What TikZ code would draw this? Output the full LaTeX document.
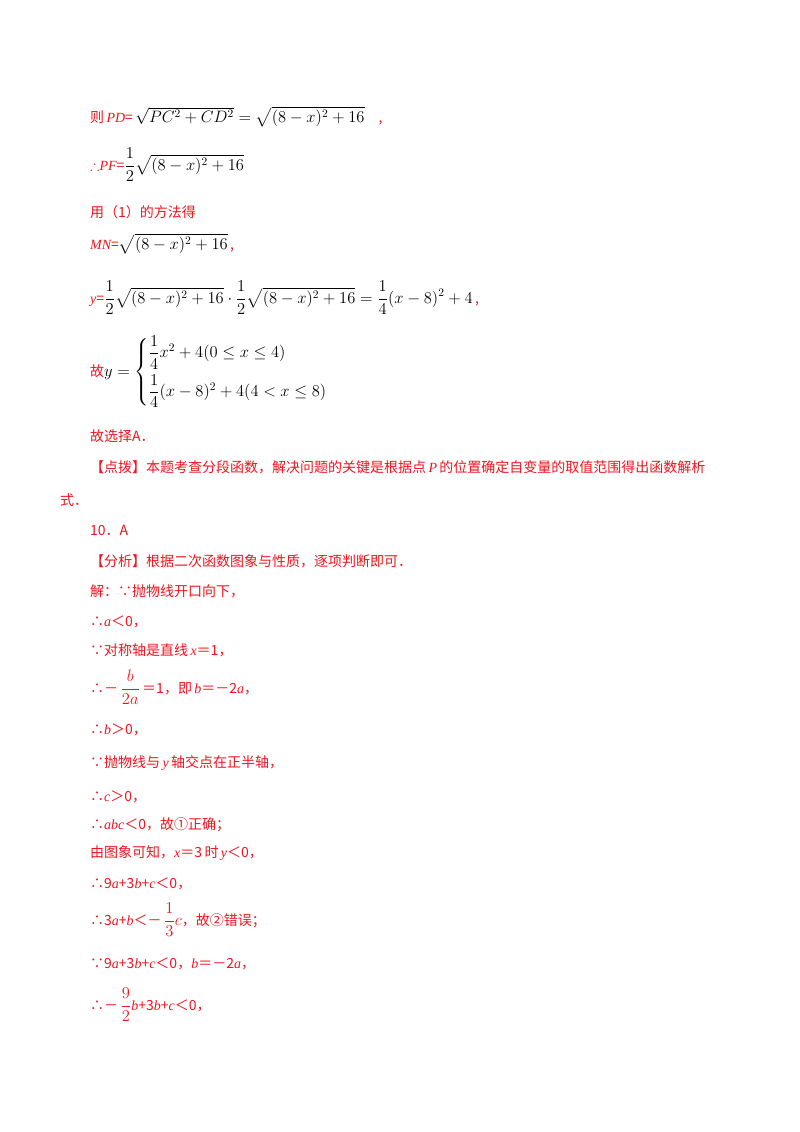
\documentclass[tikz,border=0pt]{standalone}
\usepackage{amsmath,amssymb,graphicx}
\usepackage{fontspec}
\setmainfont{Liberation Serif}
\newfontfamily\cjk{Noto Sans CJK SC}
\definecolor{rd}{RGB}{240,20,30}
\newcommand{\mth}[1]{{\color{black}\rmfamily\scalebox{1.15}{#1}}}
\begin{document}
\begin{tikzpicture}[x=1pt,y=-1pt,
  t/.style={anchor=base west,inner sep=0pt,text=rd,font=\cjk\fontsize{14}{16}\selectfont}]
\useasboundingbox (0,0) rectangle (800,1132);
\node[t] (l1) at (90,122) {则\,{\rmfamily\itshape PD}=\,\mth{$\sqrt{PC^2+CD^2}=\sqrt{(8-x)^2+16}$}\quad,};
\node[t] (l2) at (90,170) {{\rmfamily$\therefore$\itshape PF}=\mth{$\dfrac12\sqrt{(8-x)^2+16}$}};
\node[t] (l3) at (90,217) {用（1）的方法得};
\node[t] (l4) at (90,249) {{\rmfamily\itshape MN}=\mth{$\sqrt{(8-x)^2+16}$}\,,};
\node[t] (l5) at (90,303) {{\rmfamily\itshape y}=\mth{$\dfrac12\sqrt{(8-x)^2+16}\cdot\dfrac12\sqrt{(8-x)^2+16}=\dfrac14(x-8)^2+4$}\,,};
\node[t] (l6) at (90,376) {故\mth{$y=\left\{\begin{array}{@{}l@{}}\dfrac14x^2+4(0\le x\le4)\\[10pt]\dfrac14(x-8)^2+4(4<x\le8)\end{array}\right.$}};
\node[t] (l7) at (90,441) {故选择A．};
\node[t] (l8) at (90,472) {【点拨】本题考查分段函数，解决问题的关键是根据点\,{\rmfamily\itshape P}\,的位置确定自变量的取值范围得出函数解析};
\node[t] (l9) at (60,505) {式．};
\node[t] (l10) at (90,535) {10．A};
\node[t] (l11) at (90,566) {【分析】根据二次函数图象与性质，逐项判断即可．};
\node[t] (l12) at (90,596) {解：∵抛物线开口向下，};
\node[t] (l13) at (90,626) {∴{\rmfamily\itshape a}＜0，};
\node[t] (l14) at (90,655) {∵对称轴是直线\,{\rmfamily\itshape x}＝1，};
\node[t] (l15) at (90,693) {∴－\,{\rmfamily\scalebox{1.15}{$\dfrac{b}{2a}$}}\,＝1，即\,{\rmfamily\itshape b}＝－2{\rmfamily\itshape a}，};
\node[t] (l16) at (90,734) {∴{\rmfamily\itshape b}＞0，};
\node[t] (l17) at (90,767) {∵抛物线与\,{\rmfamily\itshape y}\,轴交点在正半轴，};
\node[t] (l18) at (90,801) {∴{\rmfamily\itshape c}＞0，};
\node[t] (l19) at (90,829) {∴{\rmfamily\itshape abc}＜0，故①正确；};
\node[t] (l20) at (90,857) {由图象可知，{\rmfamily\itshape x}＝3\,时\,{\rmfamily\itshape y}＜0，};
\node[t] (l21) at (90,888) {∴9{\rmfamily\itshape a}+3{\rmfamily\itshape b}+{\rmfamily\itshape c}＜0，};
\node[t] (l22) at (90,925) {∴3{\rmfamily\itshape a}+{\rmfamily\itshape b}＜－\,{\rmfamily\scalebox{1.15}{$\dfrac13c$}}，故②错误；};
\node[t] (l23) at (90,968) {∵9{\rmfamily\itshape a}+3{\rmfamily\itshape b}+{\rmfamily\itshape c}＜0，{\rmfamily\itshape b}＝－2{\rmfamily\itshape a}，};
\node[t] (l24) at (90,1010) {∴－\,{\rmfamily\scalebox{1.15}{$\dfrac92$}}{\rmfamily\itshape b}+3{\rmfamily\itshape b}+{\rmfamily\itshape c}＜0，};
\end{tikzpicture}
\end{document}
